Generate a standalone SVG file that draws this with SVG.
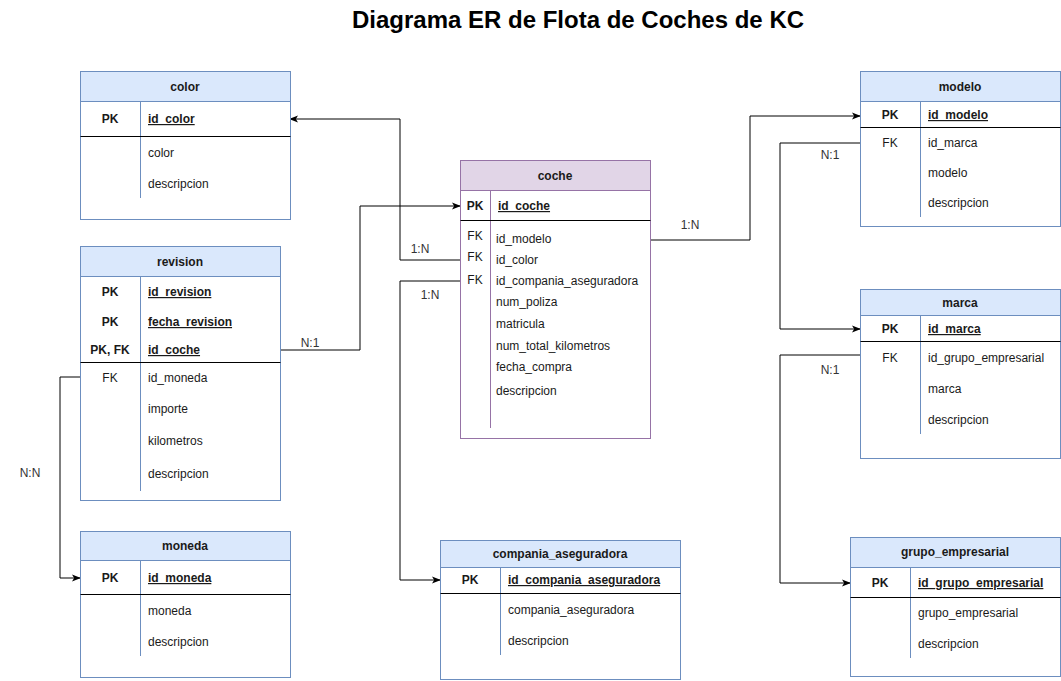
<svg xmlns="http://www.w3.org/2000/svg" width="1061" height="681" viewBox="0 0 1061 681">
<style>
text{font-family:"Liberation Sans",Arial,sans-serif;font-size:12px;fill:#1a1a1a}
.title{font-size:24px;font-weight:bold;fill:#000}
.hd{text-anchor:middle;font-weight:bold}
.k{text-anchor:middle}
.b{font-weight:bold}
.u{text-decoration:underline}
.lbl{font-size:12px;fill:#333;text-anchor:middle}
.tb{fill:#fff;stroke:#6c8ebf;stroke-width:1}
.th{fill:#dae8fc;stroke:#6c8ebf;stroke-width:1}
.dv{stroke:#6c8ebf;stroke-width:1}
.ptb{fill:#fff;stroke:#9673a6;stroke-width:1}
.pth{fill:#e1d5e7;stroke:#9673a6;stroke-width:1}
.pdv{stroke:#9673a6;stroke-width:1}
.sep{stroke:#000;stroke-width:1}
.c{fill:none;stroke:#000;stroke-width:1;marker-end:url(#arr)}
</style>
<defs>
<marker id="arr" viewBox="0 0 10 10" refX="9" refY="5" markerWidth="9" markerHeight="9" markerUnits="userSpaceOnUse" orient="auto">
<path d="M0,1 L10,5 L0,9 L2.5,5 z" fill="#000"/>
</marker>
</defs>
<rect width="1061" height="681" fill="#fff"/>
<text class="title" x="578" y="28" text-anchor="middle">Diagrama ER de Flota de Coches de KC</text>

<g id="connectors">
<polyline class="c" points="460,260 400,260 400,119 290,119"/>
<polyline class="c" points="280,350 360,350 360,206 460,206"/>
<polyline class="c" points="460,281 400,281 400,580 440,580"/>
<polyline class="c" points="650,240 750,240 750,116 860,116"/>
<polyline class="c" points="860,143 780,143 780,329 860,329"/>
<polyline class="c" points="860,355 780,355 780,583 850,583"/>
<polyline class="c" points="80,377 60,377 60,578 80,578"/>
<text class="lbl" x="420" y="253">1:N</text>
<text class="lbl" x="310" y="347">N:1</text>
<text class="lbl" x="430" y="299">1:N</text>
<text class="lbl" x="690" y="229">1:N</text>
<text class="lbl" x="830" y="159">N:1</text>
<text class="lbl" x="830" y="374">N:1</text>
<text class="lbl" x="30" y="477">N:N</text>
</g>

<g id="color">
<rect class="tb" x="80.5" y="71.5" width="210" height="148"/>
<rect class="th" x="80.5" y="71.5" width="210" height="30"/>
<line class="dv" x1="140.5" y1="101.5" x2="140.5" y2="198"/>
<line class="sep" x1="80.5" y1="136.5" x2="290.5" y2="136.5"/>
<text class="hd" x="185" y="91">color</text>
<text class="k b" x="110" y="123">PK</text>
<text class="b u" x="148" y="123">id_color</text>
<text x="148" y="157">color</text>
<text x="148" y="188">descripcion</text>
</g>

<g id="revision">
<rect class="tb" x="80.5" y="246.5" width="200" height="254"/>
<rect class="th" x="80.5" y="246.5" width="200" height="30"/>
<line class="dv" x1="140.5" y1="276.5" x2="140.5" y2="491"/>
<line class="sep" x1="80.5" y1="362.5" x2="280.5" y2="362.5" stroke="#444"/>
<text class="hd" x="180" y="266">revision</text>
<text class="k b" x="110" y="296">PK</text>
<text class="b u" x="148" y="296">id_revision</text>
<text class="k b" x="110" y="326">PK</text>
<text class="b u" x="148" y="326">fecha_revision</text>
<text class="k b" x="110" y="354">PK, FK</text>
<text class="b u" x="148" y="354">id_coche</text>
<text class="k" x="110" y="382">FK</text>
<text x="148" y="382">id_moneda</text>
<text x="148" y="413">importe</text>
<text x="148" y="445">kilometros</text>
<text x="148" y="478">descripcion</text>
</g>

<g id="moneda">
<rect class="tb" x="80.5" y="531.5" width="210" height="146"/>
<rect class="th" x="80.5" y="531.5" width="210" height="29"/>
<line class="dv" x1="140.5" y1="560.5" x2="140.5" y2="656"/>
<line class="sep" x1="80.5" y1="594.5" x2="290.5" y2="594.5"/>
<text class="hd" x="185" y="550">moneda</text>
<text class="k b" x="110" y="582">PK</text>
<text class="b u" x="148" y="582">id_moneda</text>
<text x="148" y="615">moneda</text>
<text x="148" y="646">descripcion</text>
</g>

<g id="coche">
<rect class="ptb" x="460.5" y="160.5" width="190" height="278"/>
<rect class="pth" x="460.5" y="160.5" width="190" height="30"/>
<line class="pdv" x1="490.5" y1="190.5" x2="490.5" y2="428"/>
<line class="sep" x1="460.5" y1="220.5" x2="650.5" y2="220.5"/>
<text class="hd" x="555" y="180">coche</text>
<text class="k b" x="475" y="210">PK</text>
<text class="b u" x="498" y="210">id_coche</text>
<text class="k" x="475" y="240">FK</text>
<text class="k" x="475" y="261">FK</text>
<text class="k" x="475" y="284">FK</text>
<text x="496" y="243">id_modelo</text>
<text x="496" y="264">id_color</text>
<text x="496" y="285">id_compania_aseguradora</text>
<text x="496" y="306">num_poliza</text>
<text x="496" y="328">matricula</text>
<text x="496" y="350">num_total_kilometros</text>
<text x="496" y="371">fecha_compra</text>
<text x="496" y="395">descripcion</text>
</g>

<g id="compania_aseguradora">
<rect class="tb" x="440.5" y="540.5" width="240" height="139"/>
<rect class="th" x="440.5" y="540.5" width="240" height="27"/>
<line class="dv" x1="500.5" y1="567.5" x2="500.5" y2="655"/>
<line class="sep" x1="440.5" y1="593.5" x2="680.5" y2="593.5"/>
<text class="hd" x="560" y="558">compania_aseguradora</text>
<text class="k b" x="470" y="584">PK</text>
<text class="b u" x="508" y="584">id_compania_aseguradora</text>
<text x="508" y="614">compania_aseguradora</text>
<text x="508" y="645">descripcion</text>
</g>

<g id="modelo">
<rect class="tb" x="860.5" y="71.5" width="200" height="155"/>
<rect class="th" x="860.5" y="71.5" width="200" height="30"/>
<line class="dv" x1="920.5" y1="101.5" x2="920.5" y2="217"/>
<line class="sep" x1="860.5" y1="127.5" x2="1060.5" y2="127.5"/>
<text class="hd" x="960" y="91">modelo</text>
<text class="k b" x="890" y="119">PK</text>
<text class="b u" x="928" y="119">id_modelo</text>
<text class="k" x="890" y="147">FK</text>
<text x="928" y="147">id_marca</text>
<text x="928" y="177">modelo</text>
<text x="928" y="207">descripcion</text>
</g>

<g id="marca">
<rect class="tb" x="860.5" y="289.5" width="200" height="169"/>
<rect class="th" x="860.5" y="289.5" width="200" height="26"/>
<line class="dv" x1="920.5" y1="315.5" x2="920.5" y2="434"/>
<line class="sep" x1="860.5" y1="341.5" x2="1060.5" y2="341.5"/>
<text class="hd" x="960" y="307">marca</text>
<text class="k b" x="890" y="333">PK</text>
<text class="b u" x="928" y="333">id_marca</text>
<text class="k" x="890" y="362">FK</text>
<text x="928" y="362">id_grupo_empresarial</text>
<text x="928" y="393">marca</text>
<text x="928" y="424">descripcion</text>
</g>

<g id="grupo_empresarial">
<rect class="tb" x="850.5" y="537.5" width="210" height="139"/>
<rect class="th" x="850.5" y="537.5" width="210" height="30"/>
<line class="dv" x1="910.5" y1="567.5" x2="910.5" y2="658"/>
<line class="sep" x1="850.5" y1="597.5" x2="1060.5" y2="597.5"/>
<text class="hd" x="955" y="556">grupo_empresarial</text>
<text class="k b" x="880" y="587">PK</text>
<text class="b u" x="918" y="587">id_grupo_empresarial</text>
<text x="918" y="617">grupo_empresarial</text>
<text x="918" y="648">descripcion</text>
</g>
</svg>
